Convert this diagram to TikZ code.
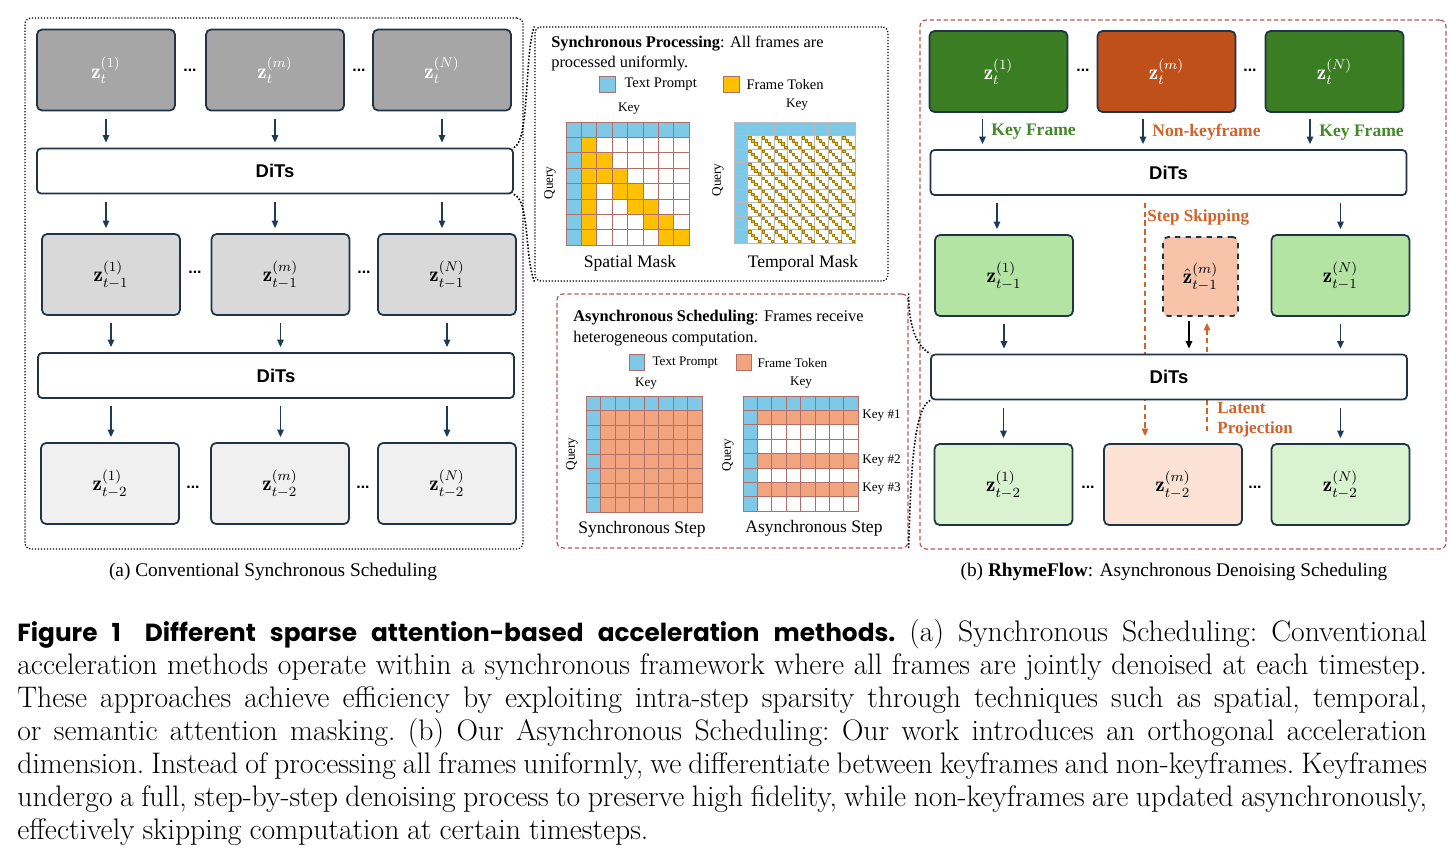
\documentclass[tikz,border=0pt]{standalone}
\usepackage{amsmath,amssymb}
\usepackage{fontspec}
\usetikzlibrary{arrows.meta,calc,positioning,backgrounds}

\newfontfamily\tnr{Liberation Serif}
\newfontfamily\arial{Liberation Sans}
\newfontfamily\popfont{Poppins}

\definecolor{boxline}{HTML}{1F3447}
\definecolor{arrowc}{HTML}{1F3A55}
\definecolor{gDark}{HTML}{A6A6A6}
\definecolor{gMid}{HTML}{D9D9D9}
\definecolor{gLight}{HTML}{F0F0F0}
\definecolor{keyGreen}{HTML}{3B7D23}
\definecolor{keyText}{HTML}{45892A}
\definecolor{nonkeyOrange}{HTML}{C0501A}
\definecolor{skipOrange}{HTML}{D0622A}
\definecolor{lGreen}{HTML}{B4E4A3}
\definecolor{llGreen}{HTML}{D9F2D0}
\definecolor{lSalmon}{HTML}{F7C4AA}
\definecolor{llSalmon}{HTML}{FBE2D5}
\definecolor{panelRed}{HTML}{B35A57}
\definecolor{maskBlue}{HTML}{7EC8E8}
\definecolor{maskOrange}{HTML}{FFC000}
\definecolor{maskSalmon}{HTML}{F2A47F}
\definecolor{gridLine}{HTML}{B26F6A}

\begin{document}
\begin{tikzpicture}[x=0.02cm, y=-0.02cm,
    latent/.style={draw=boxline, line width=1pt, rounded corners=0.1cm,
      minimum width=2.76cm, minimum height=1.62cm, inner sep=0pt,
      font=\fontsize{12}{14}\selectfont},
    hatbox/.style={latent, dashed, minimum width=1.5cm, minimum height=1.58cm, fill=lSalmon},
    dits/.style={draw=boxline, line width=1pt, rounded corners=0.08cm, fill=white,
      minimum width=9.52cm, minimum height=0.9cm, inner sep=0pt,
      font=\arial\bfseries\fontsize{10.5}{12}\selectfont},
    arr/.style={draw=arrowc, line width=0.8pt, -{Triangle[length=1.5mm,width=1.3mm]},
      shorten <=0.15cm, shorten >=0.1cm},
    skip/.style={draw=skipOrange, line width=0.8pt, dash pattern=on 3pt off 2pt,
      -{Triangle[length=1.5mm,width=1.3mm]}},
    kflabel/.style={anchor=west, inner sep=0pt, font=\tnr\bfseries\fontsize{10}{12}\selectfont},
    dotsep/.style={inner sep=0pt, font=\arial\bfseries\fontsize{9}{10}\selectfont},
    dotpanel/.style={draw, densely dotted, line width=0.7pt, rounded corners=0.12cm, inner sep=0pt},
    dashpanel/.style={draw=panelRed, dash pattern=on 2.5pt off 1.5pt, line width=0.7pt,
      rounded corners=0.12cm, inner sep=0pt},
    conn/.style={densely dotted, line width=0.9pt},
    cell/.style={draw=gridLine, line width=0.5pt},
    tcell/.style={draw=gray!55, line width=0.4pt},
    legsq/.style={draw=gridLine, line width=0.5pt, minimum size=0.33cm, inner sep=0pt},
    small/.style={inner sep=0pt, font=\tnr\fontsize{7.5}{9}\selectfont},
    masktitle/.style={inner sep=0pt, font=\tnr\fontsize{10}{12}\selectfont},
    subcap/.style={inner sep=0pt, font=\tnr\fontsize{11}{13}\selectfont}]

  \useasboundingbox (0,0) rectangle (1448,859);

  % ---------------- (a) conventional synchronous scheduling
  \node[dotpanel, minimum width=9.96cm, minimum height=10.62cm] (pa) at (274,283.5) {};

  \node[latent, fill=gDark, text=white] (za11) at (106,70) {$\mathbf{z}_t^{(1)}$};
  \node[latent, fill=gDark, text=white] (za12) at (275,70) {$\mathbf{z}_t^{(m)}$};
  \node[latent, fill=gDark, text=white] (za13) at (442,70) {$\mathbf{z}_t^{(N)}$};
  \node[dotsep] (dta1) at (190,70) {...};
  \node[dotsep] (dta2) at (359,70) {...};

  \node[dits] (da1) at (275,171) {DiTs};

  \node[latent, fill=gMid] (za21) at (111,274.5) {$\mathbf{z}_{t-1}^{(1)}$};
  \node[latent, fill=gMid] (za22) at (280.5,274.5) {$\mathbf{z}_{t-1}^{(m)}$};
  \node[latent, fill=gMid] (za23) at (447,274.5) {$\mathbf{z}_{t-1}^{(N)}$};
  \node[dotsep] (dta3) at (195,272) {...};
  \node[dotsep] (dta4) at (364,272) {...};

  \node[dits] (da2) at (276,375.5) {DiTs};

  \node[latent, fill=gLight] (za31) at (110,483.5) {$\mathbf{z}_{t-2}^{(1)}$};
  \node[latent, fill=gLight] (za32) at (280,483.5) {$\mathbf{z}_{t-2}^{(m)}$};
  \node[latent, fill=gLight] (za33) at (447,483.5) {$\mathbf{z}_{t-2}^{(N)}$};
  \node[dotsep] (dta5) at (193,487) {...};
  \node[dotsep] (dta6) at (363,487) {...};

  \foreach \i in {1,2,3} {
    \draw[arr] (za1\i.south) -- (za1\i.south |- da1.north);
    \draw[arr] (za1\i.south |- da1.south) -- (za1\i.south |- za2\i.north);
    \draw[arr] (za2\i.south) -- (za2\i.south |- da2.north);
    \draw[arr] (za2\i.south |- da2.south) -- (za2\i.south |- za3\i.north);
  }

  \node[subcap] (capa) at (273,572) {(a) Conventional Synchronous Scheduling};

  % ---------------- synchronous processing panel
  \node[dotpanel, minimum width=7.06cm, minimum height=5.08cm] (psync) at (711.5,154) {};
  \node[anchor=north west, align=left, inner sep=0pt,
    font=\tnr\fontsize{9.3}{11.4}\selectfont] (tsync) at (551,36)
    {\textbf{Synchronous Processing}: All frames are\\processed uniformly.};
  \node[legsq, fill=maskBlue] (lgb1) at (607.5,84.5) {};
  \node[small, font=\tnr\fontsize{8.3}{10}\selectfont, right=0.16cm of lgb1] (lgt1) {Text Prompt};
  \node[legsq, fill=maskOrange] (lgo1) at (731.5,84.5) {};
  \node[small, font=\tnr\fontsize{8.3}{10}\selectfont, right=0.12cm of lgo1] (lgt2) {Frame Token};

  % spatial mask
  \foreach \r in {0,...,7} \foreach \c in {0,...,7}
    \draw[cell, fill=white] (566+\c*15.4,122+\r*15.4) rectangle ++(15.4,15.4);
  \foreach \k in {0,...,7} {
    \draw[cell, fill=maskBlue] (566+\k*15.4,122) rectangle ++(15.4,15.4);
    \draw[cell, fill=maskBlue] (566,122+\k*15.4) rectangle ++(15.4,15.4);
  }
  \foreach \c/\r in {1/1,1/2,2/2,1/3,2/3,3/3,1/4,3/4,4/4,1/5,4/5,5/5,1/6,5/6,6/6,1/7,6/7,7/7}
    \draw[cell, fill=maskOrange] (566+\c*15.4,122+\r*15.4) rectangle ++(15.4,15.4);
  \node[small] (ksp) at (629,109) {Key};
  \node[small, rotate=90] (qsp) at (550,183) {Query};
  \node[masktitle] (msp) at (630,263) {Spatial Mask};

  % temporal mask
  \foreach \r in {0,...,8} \foreach \c in {0,...,8}
    \draw[tcell, fill=white] (734+\c*13.45,122+\r*13.45) rectangle ++(13.45,13.45);
  \foreach \k in {0,...,8} {
    \draw[tcell, fill=maskBlue] (734+\k*13.45,122) rectangle ++(13.45,13.45);
    \draw[tcell, fill=maskBlue] (734,122+\k*13.45) rectangle ++(13.45,13.45);
  }
  \foreach \r in {1,...,8} \foreach \c in {1,...,8} \foreach \k in {0,...,3}
    \filldraw[fill=maskOrange, draw=maskOrange!65!black, line width=0.2pt]
      (735+\c*13.45+\k*3.1,123+\r*13.45+\k*3.1) rectangle ++(2.3,2.3);
  \node[small] (ktp) at (797,105) {Key};
  \node[small, rotate=90] (qtp) at (718,180) {Query};
  \node[masktitle] (mtp) at (803,263) {Temporal Mask};

  % ---------------- asynchronous scheduling panel
  \node[dashpanel, minimum width=7.02cm, minimum height=5.08cm] (pasync) at (732.5,421) {};
  \node[anchor=north west, align=left, inner sep=0pt,
    font=\tnr\fontsize{9.3}{11.9}\selectfont] (tasync) at (573,310)
    {\textbf{Asynchronous Scheduling}: Frames receive\\heterogeneous computation.};
  \node[legsq, fill=maskBlue, minimum size=0.31cm] (lgb2) at (637,362.5) {};
  \node[small, right=0.14cm of lgb2] (lgt3) {Text Prompt};
  \node[legsq, fill=maskSalmon, minimum size=0.31cm] (lgs2) at (744,362.5) {};
  \node[small, right=0.1cm of lgs2] (lgt4) {Frame Token};

  % synchronous step
  \foreach \r in {0,...,7} \foreach \c in {0,...,7}
    \draw[cell, fill=maskSalmon] (586+\c*14.5,396+\r*14.5) rectangle ++(14.5,14.5);
  \foreach \k in {0,...,7} {
    \draw[cell, fill=maskBlue] (586+\k*14.5,396) rectangle ++(14.5,14.5);
    \draw[cell, fill=maskBlue] (586,396+\k*14.5) rectangle ++(14.5,14.5);
  }
  \node[small] (kss) at (646,384) {Key};
  \node[small, rotate=90] (qss) at (572,454) {Query};
  \node[masktitle] (mss) at (642,529) {Synchronous Step};

  % asynchronous step
  \foreach \r in {0,...,7} \foreach \c in {0,...,7}
    \draw[cell, fill=white] (743+\c*14.4,396+\r*14.4) rectangle ++(14.4,14.4);
  \foreach \r in {1,4,6} \foreach \c in {1,...,7}
    \draw[cell, fill=maskSalmon] (743+\c*14.4,396+\r*14.4) rectangle ++(14.4,14.4);
  \foreach \k in {0,...,7} {
    \draw[cell, fill=maskBlue] (743+\k*14.4,396) rectangle ++(14.4,14.4);
    \draw[cell, fill=maskBlue] (743,396+\k*14.4) rectangle ++(14.4,14.4);
  }
  \node[small] (kas) at (801,383) {Key};
  \node[small, rotate=90] (qas) at (728,455) {Query};
  \node[small, anchor=west] (key1) at (862,416) {Key \#1};
  \node[small, anchor=west] (key2) at (862,461) {Key \#2};
  \node[small, anchor=west] (key3) at (862,489) {Key \#3};
  \node[masktitle] (mas) at (814,528) {Asynchronous Step};

  % ---------------- (b) RhymeFlow
  \node[dashpanel, minimum width=10.52cm, minimum height=10.58cm] (pb) at (1183,284.5) {};

  \node[latent, fill=keyGreen, text=white] (zb11) at (998.5,71.5) {$\mathbf{z}_t^{(1)}$};
  \node[latent, fill=nonkeyOrange, text=white] (zb12) at (1166.5,71.5) {$\mathbf{z}_t^{(m)}$};
  \node[latent, fill=keyGreen, text=white] (zb13) at (1334.5,71.5) {$\mathbf{z}_t^{(N)}$};
  \node[dotsep] (dtb1) at (1083,70) {...};
  \node[dotsep] (dtb2) at (1250,70) {...};

  \node[dits] (db1) at (1168.5,172.5) {DiTs};

  \node[latent, fill=lGreen] (zb21) at (1004,275.5) {$\mathbf{z}_{t-1}^{(1)}$};
  \node[hatbox] (zb22) at (1200.5,276.5) {$\hat{\mathbf{z}}_{t-1}^{(m)}$};
  \node[latent, fill=lGreen] (zb23) at (1340.5,275.5) {$\mathbf{z}_{t-1}^{(N)}$};

  \node[dits] (db2) at (1169,377) {DiTs};

  \node[latent, fill=llGreen] (zb31) at (1003.5,484.5) {$\mathbf{z}_{t-2}^{(1)}$};
  \node[latent, fill=llSalmon] (zb32) at (1173,484.5) {$\mathbf{z}_{t-2}^{(m)}$};
  \node[latent, fill=llGreen] (zb33) at (1340.5,484.5) {$\mathbf{z}_{t-2}^{(N)}$};
  \node[dotsep] (dtb3) at (1088,487) {...};
  \node[dotsep] (dtb4) at (1255,487) {...};

  \foreach \i/\dx in {1/-0.32cm,2/-0.47cm,3/-0.49cm}
    \draw[arr, shorten <=0.12cm] ([xshift=\dx]zb1\i.south) -- ([xshift=\dx]zb1\i.south |- db1.north);
  \node[kflabel, text=keyText] (lkf1) at (991,132) {Key Frame};
  \node[kflabel, text=skipOrange] (lnk) at (1152,132) {Non-keyframe};
  \node[kflabel, text=keyText] (lkf2) at (1319,133) {Key Frame};

  \draw[arr] ([xshift=-0.14cm]zb21.north |- db1.south) -- ([xshift=-0.14cm]zb21.north);
  \draw[arr] (zb23.north |- db1.south) -- (zb23.north);
  \draw[arr] (zb21.south) -- (zb21.south |- db2.north);
  \draw[arr, draw=black, shorten <=0.08cm] ([xshift=-0.23cm]zb22.south) -- ([xshift=-0.23cm]zb22.south |- db2.north);
  \draw[arr] (zb23.south) -- (zb23.south |- db2.north);
  \draw[arr] (zb31.north |- db2.south) -- (zb31.north);
  \draw[arr] (zb33.north |- db2.south) -- (zb33.north);

  % dashed skip paths go under the DiTs box
  \begin{scope}[on background layer]
    \draw[skip, shorten <=0.14cm, shorten >=0.14cm]
      ([xshift=-0.56cm]zb32.north |- db1.south) -- ([xshift=-0.56cm]zb32.north);
    \draw[skip, shorten <=0.24cm, shorten >=0.12cm]
      ([xshift=0.13cm]zb22.south |- zb32.north) -- ([xshift=0.13cm]zb22.south);
  \end{scope}
  \node[kflabel, text=skipOrange, font=\tnr\bfseries\fontsize{9.7}{12}\selectfont] (lss) at (1147,217) {Step Skipping};
  \node[kflabel, text=skipOrange, align=left, font=\tnr\bfseries\fontsize{9.7}{11.5}\selectfont] (llp) at (1217,420) {Latent\\Projection};

  \node[subcap] (capb) at (1174,572) {(b) \textbf{RhymeFlow}: Asynchronous Denoising Scheduling};

  % dotted zoom connectors
  \draw[conn] (da1.north east) .. controls +(16,-6) and +(-10,25) .. (psync.north west);
  \draw[conn] (da1.south east) .. controls +(16,6) and +(-10,-25) .. (psync.south west);
  \draw[conn] (pasync.north east) .. controls +(0,30) and +(-15,-8) .. (db2.north west);
  \draw[conn] (db2.south west) .. controls +(-18,8) and +(2,-60) .. (pasync.south east);

  % ---------------- figure caption
  \node[anchor=north west, text width=28.2cm, align=justify, inner sep=0pt,
    font=\fontsize{16.9}{18.8}\selectfont] (capfig) at (17,619)
    {\frenchspacing\tolerance=10000\hyphenpenalty=10000\exhyphenpenalty=10000
     \spaceskip=0.27em plus 0.8em minus 0.14em
     {\popfont\bfseries\fontsize{14.1}{18.8}\selectfont Figure 1\hspace{0.4em} Different sparse attention-based acceleration methods.}
     (a) Synchronous Scheduling: Conventional\linebreak
     acceleration methods operate within a synchronous framework where all frames are jointly denoised at each timestep.\linebreak
     These approaches achieve efficiency by exploiting intra-step sparsity through techniques such as spatial, temporal,\linebreak
     or semantic attention masking. (b) Our Asynchronous Scheduling: Our work introduces an orthogonal acceleration\linebreak
     dimension. Instead of processing all frames uniformly, we differentiate between keyframes and non-keyframes. Keyframes\linebreak
     undergo a full, step-by-step denoising process to preserve high fidelity, while non-keyframes are updated asynchronously,\linebreak
     effectively skipping computation at certain timesteps.\par};
\end{tikzpicture}
\end{document}
